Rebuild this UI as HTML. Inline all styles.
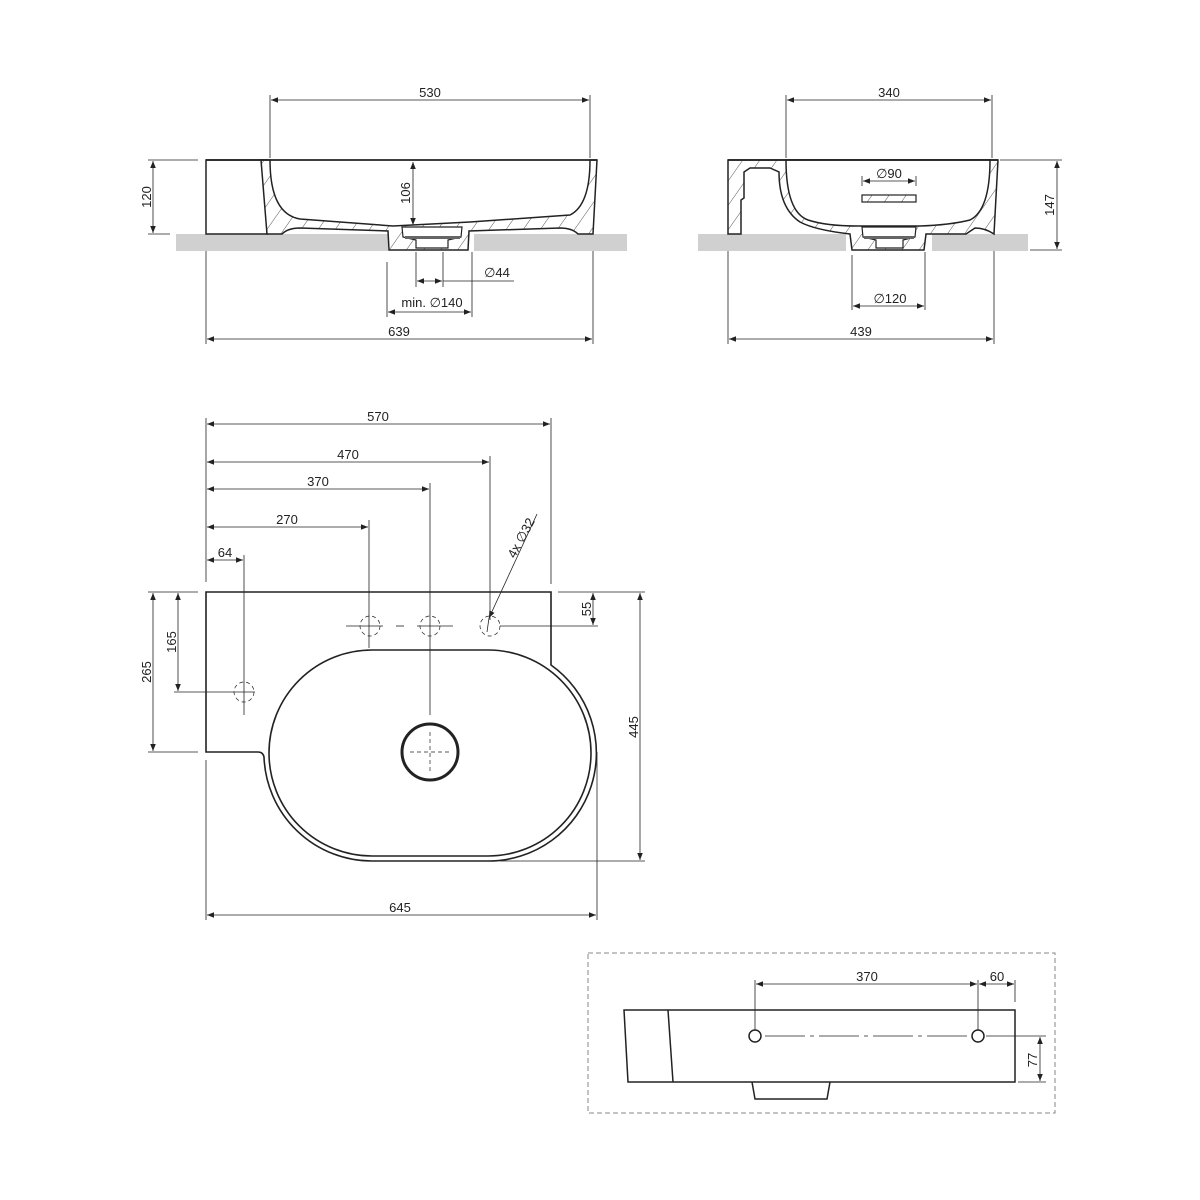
<!DOCTYPE html>
<html><head><meta charset="utf-8"><style>
html,body{margin:0;padding:0;background:#fff}
svg{display:block}
text{font-family:"Liberation Sans",sans-serif;font-size:13px;fill:#222}
</style></head><body>
<svg width="1200" height="1200" viewBox="0 0 1200 1200" xmlns="http://www.w3.org/2000/svg">
<defs>
<marker id="a" viewBox="0 0 10 10" refX="10" refY="5" markerWidth="9" markerHeight="7" orient="auto-start-reverse" markerUnits="userSpaceOnUse"><path d="M0,1 L10,5 L0,9 Z" fill="#222"/></marker>
<pattern id="h" width="14" height="14" patternUnits="userSpaceOnUse" patternTransform="rotate(35)"><rect width="14" height="14" fill="#fff"/><line x1="0" y1="0" x2="0" y2="14" stroke="#444" stroke-width="0.9"/></pattern>
</defs>
<g stroke="#222" fill="none">
<!-- ===== TOP LEFT VIEW ===== -->
<rect x="176" y="234" width="212" height="17" fill="#d0d0d0" stroke="none"/>
<rect x="474" y="234" width="153" height="17" fill="#d0d0d0" stroke="none"/>
<rect x="206" y="160" width="61" height="74" stroke-width="1.5" fill="#fff"/>
<path d="M261,160 L267,234 L282,234 Q288,228 300,228 L388,231 L389,250 L468,250 L469,231 L560,228 Q572,228 578,234 L593,234 L597,160 L590,160 Q590,205 570,215 L470,222 L393,226 L300,219 Q270,214 270,160 Z" fill="url(#h)" stroke-width="1.5"/>
<line x1="206" y1="160" x2="597" y2="160" stroke-width="1.8"/>
<path d="M402,227 L462,227 L461,237 L448,240 L448,248 L416,248 L416,240 L403,237 Z" fill="#fff" stroke-width="1.2"/>
<rect x="405" y="236" width="55" height="3" fill="#666" stroke="none"/>
<g stroke-width="0.8">
<line x1="270" y1="95" x2="270" y2="158"/><line x1="590" y1="95" x2="590" y2="158"/>
<line x1="271" y1="100" x2="589" y2="100" marker-start="url(#a)" marker-end="url(#a)"/>
<line x1="148" y1="160" x2="198" y2="160"/><line x1="148" y1="234" x2="170" y2="234"/>
<line x1="153" y1="161" x2="153" y2="233" marker-start="url(#a)" marker-end="url(#a)"/>
<line x1="413" y1="162" x2="413" y2="225" marker-start="url(#a)" marker-end="url(#a)"/>
<line x1="416" y1="252" x2="416" y2="287"/><line x1="443" y1="252" x2="443" y2="287"/>
<line x1="417" y1="281" x2="442" y2="281" marker-start="url(#a)" marker-end="url(#a)"/>
<line x1="443" y1="281" x2="514" y2="281"/>
<line x1="387" y1="262" x2="387" y2="317"/><line x1="472" y1="252" x2="472" y2="317"/>
<line x1="388" y1="312" x2="471" y2="312" marker-start="url(#a)" marker-end="url(#a)"/>
<line x1="206" y1="251" x2="206" y2="344"/><line x1="593" y1="251" x2="593" y2="344"/>
<line x1="207" y1="339" x2="592" y2="339" marker-start="url(#a)" marker-end="url(#a)"/>
</g>
<!-- ===== TOP RIGHT VIEW ===== -->
<rect x="698" y="234" width="148" height="17" fill="#d0d0d0" stroke="none"/>
<rect x="932" y="234" width="96" height="17" fill="#d0d0d0" stroke="none"/>
<path d="M728,160 H998 L994,234 Q985,228 975,228 L966,234 H926 L924,250 H852 L850,234 Q815,230 800,222 Q779,208 779,172 L770,168 H750 L744,172 V198 L741,200 V234 H728 Z" fill="url(#h)" stroke-width="1.5"/>
<path d="M786,160 Q786,212 808,220 Q826,226 858,226 H920 Q950,225 970,220 Q990,210 990,160 Z" fill="#fff" stroke-width="1.5"/>
<line x1="728" y1="160" x2="998" y2="160" stroke-width="1.8"/>
<path d="M862,227 L916,227 L915,237 L903,240 L903,248 L876,248 L876,240 L863,237 Z" fill="#fff" stroke-width="1.2"/>
<rect x="864" y="236" width="50" height="3" fill="#666" stroke="none"/>
<rect x="862" y="195" width="54" height="7" fill="url(#h)" stroke-width="1.2"/>
<g stroke-width="0.8">
<line x1="786" y1="95" x2="786" y2="158"/><line x1="992" y1="95" x2="992" y2="158"/>
<line x1="787" y1="100" x2="991" y2="100" marker-start="url(#a)" marker-end="url(#a)"/>
<line x1="1000" y1="160" x2="1062" y2="160"/><line x1="1030" y1="250" x2="1062" y2="250"/>
<line x1="1057" y1="161" x2="1057" y2="249" marker-start="url(#a)" marker-end="url(#a)"/>
<line x1="863" y1="181" x2="915" y2="181" marker-start="url(#a)" marker-end="url(#a)"/>
<line x1="862" y1="176" x2="862" y2="186"/><line x1="916" y1="176" x2="916" y2="186"/>
<line x1="852" y1="255" x2="852" y2="310"/><line x1="925" y1="252" x2="925" y2="310"/>
<line x1="853" y1="306" x2="924" y2="306" marker-start="url(#a)" marker-end="url(#a)"/>
<line x1="728" y1="251" x2="728" y2="344"/><line x1="994" y1="251" x2="994" y2="344"/>
<line x1="729" y1="339" x2="993" y2="339" marker-start="url(#a)" marker-end="url(#a)"/>
</g>
<!-- ===== PLAN VIEW ===== -->
<path d="M206,592 H551 V665 A108,108 0 0 1 488,861 H372 A108,108 0 0 1 264,757 Q263,752 258,752 H206 Z" stroke-width="1.6"/>
<path d="M372,650 H488 A103,103 0 0 1 488,856 H372 A103,103 0 0 1 372,650 Z" stroke-width="1.6"/>
<circle cx="430" cy="752" r="28" stroke-width="3"/>
<g stroke-width="0.7" stroke-dasharray="4,3">
<circle cx="370" cy="626" r="10"/><circle cx="430" cy="626" r="10"/><circle cx="490" cy="626" r="10"/><circle cx="244" cy="692" r="10"/>
<line x1="410" y1="752" x2="450" y2="752"/><line x1="430" y1="732" x2="430" y2="772"/>
</g>
<g stroke-width="0.8">
<line x1="346" y1="626" x2="383" y2="626"/><line x1="396" y1="626" x2="404" y2="626"/><line x1="417" y1="626" x2="453" y2="626"/>
<line x1="500" y1="626" x2="598" y2="626"/>
<line x1="206" y1="418" x2="206" y2="582"/><line x1="551" y1="418" x2="551" y2="584"/>
<line x1="490" y1="456" x2="490" y2="620"/><line x1="430" y1="483" x2="430" y2="715"/>
<line x1="369" y1="520" x2="369" y2="648"/><line x1="244" y1="555" x2="244" y2="715"/>
<line x1="207" y1="424" x2="550" y2="424" marker-start="url(#a)" marker-end="url(#a)"/>
<line x1="207" y1="462" x2="489" y2="462" marker-start="url(#a)" marker-end="url(#a)"/>
<line x1="207" y1="489" x2="429" y2="489" marker-start="url(#a)" marker-end="url(#a)"/>
<line x1="207" y1="527" x2="368" y2="527" marker-start="url(#a)" marker-end="url(#a)"/>
<line x1="207" y1="560" x2="243" y2="560" marker-start="url(#a)" marker-end="url(#a)"/>
<line x1="148" y1="592" x2="198" y2="592"/><line x1="148" y1="752" x2="198" y2="752"/><line x1="174" y1="692" x2="255" y2="692"/>
<line x1="153" y1="593" x2="153" y2="751" marker-start="url(#a)" marker-end="url(#a)"/>
<line x1="178" y1="593" x2="178" y2="691" marker-start="url(#a)" marker-end="url(#a)"/>
<line x1="558" y1="592" x2="645" y2="592"/><line x1="500" y1="861" x2="645" y2="861"/>
<line x1="593" y1="593" x2="593" y2="625" marker-start="url(#a)" marker-end="url(#a)"/>
<line x1="640" y1="593" x2="640" y2="860" marker-start="url(#a)" marker-end="url(#a)"/>
<line x1="206" y1="760" x2="206" y2="920"/><line x1="597" y1="752" x2="597" y2="920"/>
<line x1="207" y1="915" x2="596" y2="915" marker-start="url(#a)" marker-end="url(#a)"/>
<line x1="537" y1="514" x2="489" y2="618" marker-end="url(#a)"/>
<line x1="489" y1="618" x2="487" y2="632"/>
</g>
<!-- ===== BOTTOM RIGHT VIEW ===== -->
<rect x="588" y="953" width="467" height="160" stroke="#888" stroke-width="1" stroke-dasharray="5,3"/>
<path d="M624,1010 H1015 V1082 H628 Z" stroke-width="1.5"/>
<line x1="668" y1="1010" x2="673" y2="1082" stroke-width="1.5"/>
<path d="M752,1082 L755,1099 L827,1099 L830,1082" stroke-width="1.5"/>
<circle cx="755" cy="1036" r="6" stroke-width="1.5"/><circle cx="978" cy="1036" r="6" stroke-width="1.5"/>
<g stroke-width="0.8">
<line x1="765" y1="1036" x2="970" y2="1036" stroke-dasharray="40,5,4,5"/>
<line x1="986" y1="1036" x2="1046" y2="1036"/><line x1="1018" y1="1082" x2="1046" y2="1082"/>
<line x1="755" y1="980" x2="755" y2="1030"/><line x1="978" y1="980" x2="978" y2="1030"/><line x1="1015" y1="980" x2="1015" y2="1002"/>
<line x1="756" y1="984" x2="977" y2="984" marker-start="url(#a)" marker-end="url(#a)"/>
<line x1="979" y1="984" x2="1014" y2="984" marker-start="url(#a)" marker-end="url(#a)"/>
<line x1="1040" y1="1037" x2="1040" y2="1081" marker-start="url(#a)" marker-end="url(#a)"/>
</g>
</g>
<text x="430" y="97" text-anchor="middle">530</text>
<text x="399" y="336" text-anchor="middle">639</text>
<text transform="translate(151,197) rotate(-90)" text-anchor="middle">120</text>
<text transform="translate(410,193) rotate(-90)" text-anchor="middle">106</text>
<text x="497" y="277" text-anchor="middle">∅44</text>
<text x="432" y="307" text-anchor="middle">min. ∅140</text>
<text x="889" y="97" text-anchor="middle">340</text>
<text x="889" y="178" text-anchor="middle">∅90</text>
<text x="890" y="303" text-anchor="middle">∅120</text>
<text x="861" y="336" text-anchor="middle">439</text>
<text transform="translate(1054,205) rotate(-90)" text-anchor="middle">147</text>
<text x="378" y="421" text-anchor="middle">570</text>
<text x="348" y="459" text-anchor="middle">470</text>
<text x="318" y="486" text-anchor="middle">370</text>
<text x="287" y="524" text-anchor="middle">270</text>
<text x="225" y="557" text-anchor="middle">64</text>
<text transform="translate(525,540) rotate(-62)" text-anchor="middle">4x ∅32</text>
<text transform="translate(151,672) rotate(-90)" text-anchor="middle">265</text>
<text transform="translate(176,642) rotate(-90)" text-anchor="middle">165</text>
<text transform="translate(591,609) rotate(-90)" text-anchor="middle">55</text>
<text transform="translate(638,727) rotate(-90)" text-anchor="middle">445</text>
<text x="400" y="912" text-anchor="middle">645</text>
<text x="867" y="981" text-anchor="middle">370</text>
<text x="997" y="981" text-anchor="middle">60</text>
<text transform="translate(1037,1060) rotate(-90)" text-anchor="middle">77</text>
</svg>
</body></html>
